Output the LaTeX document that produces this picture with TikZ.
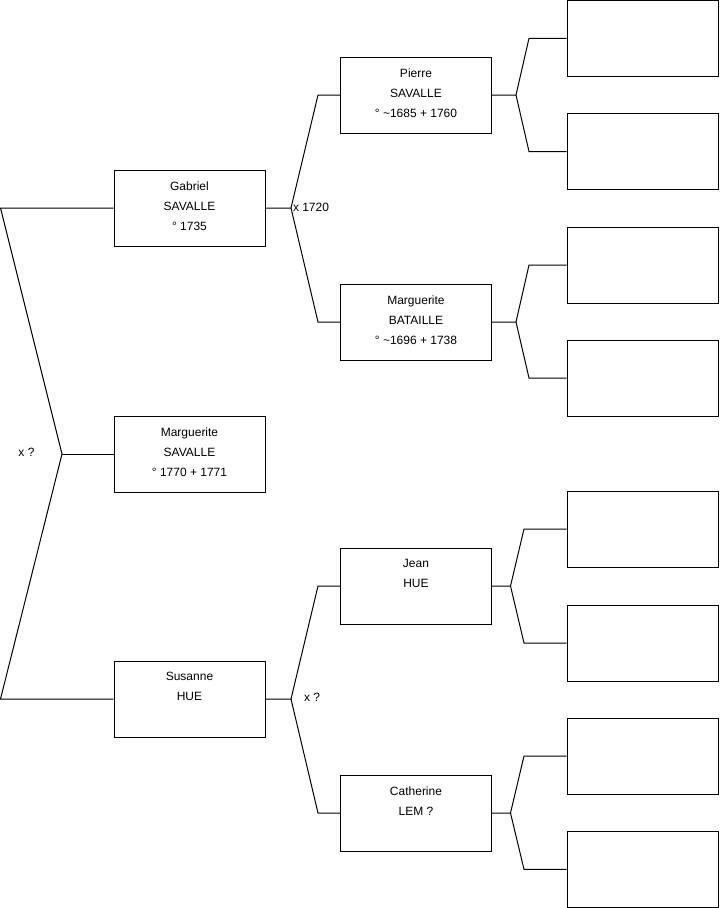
\documentclass[tikz,border=0pt]{standalone}
\usepackage{fontspec}
\setmainfont{Liberation Sans}
\begin{document}
\begin{tikzpicture}[x=0.75pt,y=-0.75pt,
  line width=0.75pt,
  pbox/.style={draw=black,rectangle,minimum width=113.25pt,minimum height=57pt,inner sep=0pt,fill=white},
  txt/.style={anchor=north,inner sep=0pt,align=center,font=\fontsize{9}{15}\selectfont},
  lab/.style={anchor=west,inner sep=0pt,font=\fontsize{9}{11}\selectfont},
  conn/.style={draw=black,line width=0.75pt}]
\useasboundingbox (0,0) rectangle (719,908);
% generation 1
\node[pbox] (g) at (189.5,208) {};
\node[pbox] (ms) at (189.5,454) {};
\node[pbox] (s) at (189.5,699) {};
% generation 2
\node[pbox] (p) at (416,95) {};
\node[pbox] (mb) at (416,322) {};
\node[pbox] (j) at (416,586) {};
\node[pbox] (c) at (416,813) {};
% generation 3
\node[pbox] (r1) at (642.5,38.3) {};
\node[pbox] (r2) at (642.5,151.5) {};
\node[pbox] (r3) at (642.5,265) {};
\node[pbox] (r4) at (642.5,378) {};
\node[pbox] (r5) at (642.5,529) {};
\node[pbox] (r6) at (642.5,643) {};
\node[pbox] (r7) at (642.5,756) {};
\node[pbox] (r8) at (642.5,869.3) {};
% texts
\node[txt] (gt) at ([yshift=-8.6pt]g.north) {Gabriel\\SAVALLE\\° 1735};
\node[txt] (mst) at ([yshift=-8.6pt]ms.north) {Marguerite\\SAVALLE\\° 1770 + 1771};
\node[txt] (st) at ([yshift=-8.6pt]s.north) {Susanne\\HUE};
\node[txt] (pt) at ([yshift=-8.6pt]p.north) {Pierre\\SAVALLE\\° \textasciitilde 1685 + 1760};
\node[txt] (mbt) at ([yshift=-8.6pt]mb.north) {Marguerite\\BATAILLE\\° \textasciitilde 1696 + 1738};
\node[txt] (jt) at ([yshift=-8.6pt]j.north) {Jean\\HUE};
\node[txt] (ct) at ([yshift=-8.6pt]c.north) {Catherine\\LEM ?};
% junction coordinates
\coordinate (L1) at (0.5,208);
\coordinate (L2) at (62,454);
\coordinate (L3) at (0.5,699);
\coordinate (A0) at (291,208);
\coordinate (A1) at (318,95);
\coordinate (A2) at (318,322);
\coordinate (B0) at (291,699);
\coordinate (B1) at (318,586);
\coordinate (B2) at (318,813);
\coordinate (P0) at (516,95);
\coordinate (P1) at (529,38.3);
\coordinate (P2) at (529,151.5);
\coordinate (Q0) at (516,322);
\coordinate (Q1) at (529,265);
\coordinate (Q2) at (529,378);
\coordinate (J0) at (510.5,586);
\coordinate (J1) at (524,529);
\coordinate (J2) at (524,643);
\coordinate (C0) at (510.5,813);
\coordinate (C1) at (524,756);
\coordinate (C2) at (524,869.3);
% connectors
\draw[conn] (g.west) -- (L1) -- (L2) -- (L3) -- (s.west);
\draw[conn] (L2) -- (ms.west);
\draw[conn] (g.east) -- (A0) -- (A1) -- (p.west);
\draw[conn] (A0) -- (A2) -- (mb.west);
\draw[conn] (s.east) -- (B0) -- (B1) -- (j.west);
\draw[conn] (B0) -- (B2) -- (c.west);
\draw[conn] (p.east) -- (P0) -- (P1) -- (r1.west);
\draw[conn] (P0) -- (P2) -- (r2.west);
\draw[conn] (mb.east) -- (Q0) -- (Q1) -- (r3.west);
\draw[conn] (Q0) -- (Q2) -- (r4.west);
\draw[conn] (j.east) -- (J0) -- (J1) -- (r5.west);
\draw[conn] (J0) -- (J2) -- (r6.west);
\draw[conn] (c.east) -- (C0) -- (C1) -- (r7.west);
\draw[conn] (C0) -- (C2) -- (r8.west);
% marriage labels
\node[lab] (m1) at (18,452) {x ?};
\node[lab] (m2) at (292.5,207) {x 1720};
\node[lab] (m3) at (303.5,697) {x ?};
\end{tikzpicture}
\end{document}
